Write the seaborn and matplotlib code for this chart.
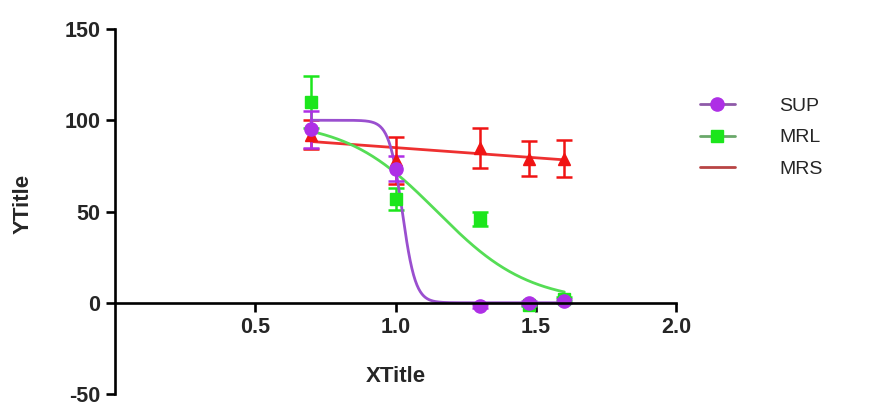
import numpy as np
import matplotlib
matplotlib.use('Agg')
import matplotlib.pyplot as plt
import seaborn as sns
from matplotlib.lines import Line2D

# log10 of concentration (5, 10, 20, 30, 40)
log_conc = [0.699, 1.0, 1.301, 1.477, 1.602]

sup_mean = [95, 73.5, -2, 0, 1]
sup_err = [10, 7, 1, 1, 1]
mrl_mean = [110, 57, 46, -1, 2]
mrl_err = [14, 6, 4, 1, 1]
mrs_mean = [92, 78, 85, 79, 79]
mrs_err = [8, 13, 11, 9.5, 10]

series_names = ['SUP', 'MRL', 'MRS']
x_ticks = [0.5, 1.0, 1.5, 2.0]
y_ticks = [-50, 0, 50, 100, 150]


def fit_dose_response(x, y, top=100, bottom=0):
    # normalized 4PL fit (top/bottom fixed), grid search on logIC50 and hill slope
    x = np.asarray(x, dtype=float)
    y = np.asarray(y, dtype=float)
    c = np.linspace(0.8, 1.6, 401)[:, None, None]
    h = np.linspace(0.5, 20, 391)[None, :, None]
    pred = bottom + (top - bottom) / (1 + 10 ** ((x - c) * h))
    sse = ((pred - y) ** 2).sum(axis=2)
    i, j = np.unravel_index(sse.argmin(), sse.shape)
    xs = np.linspace(x.min(), x.max(), 300)
    ys = bottom + (top - bottom) / (1 + 10 ** ((xs - c[i, 0, 0]) * h[0, j, 0]))
    return xs, ys


sns.set_theme(style="ticks")
plt.rcParams['font.family'] = ['Liberation Sans', 'DejaVu Sans']
plt.rcParams['axes.unicode_minus'] = False

fig = plt.figure(figsize=(8.9, 4.08), dpi=100)
ax = fig.add_axes([115 / 890, 1 - 394 / 408, 561 / 890, 365 / 408])

sup_col, sup_line = '#AE2FE6', '#9A4FCF'
mrl_col, mrl_line = '#1CE61C', '#55DD55'
mrs_col, mrs_line = '#F01414', '#EE3030'

# MRS - linear fit
p = np.polyfit(log_conc, mrs_mean, 1)
xs = np.linspace(min(log_conc), max(log_conc), 50)
sns.lineplot(x=xs, y=np.polyval(p, xs), color=mrs_line, linewidth=2, ax=ax)
ax.errorbar(log_conc, mrs_mean, yerr=mrs_err, fmt='^', ms=9, color=mrs_col,
            ecolor=mrs_col, elinewidth=1.8, capsize=6, capthick=1.8, clip_on=False)

# MRL
xs, ys = fit_dose_response(log_conc, mrl_mean)
sns.lineplot(x=xs, y=ys, color=mrl_line, linewidth=2, ax=ax)
ax.errorbar(log_conc, mrl_mean, yerr=mrl_err, fmt='s', ms=9, color=mrl_col,
            ecolor=mrl_col, elinewidth=1.8, capsize=6, capthick=1.8, clip_on=False)

# SUP
xs, ys = fit_dose_response(log_conc, sup_mean)
sns.lineplot(x=xs, y=ys, color=sup_line, linewidth=2, ax=ax)
ax.errorbar(log_conc, sup_mean, yerr=sup_err, fmt='o', ms=9.5, color=sup_col,
            ecolor=sup_col, elinewidth=1.8, capsize=6, capthick=1.8, clip_on=False)

ax.set_xlim(0, 2.0)
ax.set_ylim(-50, 150)
ax.set_xticks(x_ticks)
ax.set_xticklabels(['%.1f' % t for t in x_ticks])
ax.set_yticks(y_ticks)
for s in ['top', 'right']:
    ax.spines[s].set_visible(False)
ax.spines['bottom'].set_position(('data', 0))
for s in ['left', 'bottom']:
    ax.spines[s].set_linewidth(1.9)
    ax.spines[s].set_color('black')
ax.tick_params(axis='both', direction='out', length=6.5, width=1.9, color='black',
               labelsize=15.5, pad=4)
for t in ax.get_xticklabels() + ax.get_yticklabels():
    t.set_fontweight('bold')

ax.set_xlabel('XTitle', fontsize=16, fontweight='bold')
ax.xaxis.set_label_coords(0.5, (394 - 366) / 365)
ax.set_ylabel('YTitle', fontsize=16, fontweight='bold')
ax.yaxis.set_label_coords((34 - 115) / 561, 0.52)

handles = [
    Line2D([0], [0], color='#8E5AA8', lw=2, marker='o', ms=9.5, mfc=sup_col, mec=sup_col),
    Line2D([0], [0], color='#6AA86A', lw=2, marker='s', ms=9, mfc=mrl_col, mec=mrl_col),
    Line2D([0], [0], color='#B84444', lw=2),
]
fig.legend(handles=handles, labels=series_names, loc='upper left',
           bbox_to_anchor=(682 / 890, 1 - 80 / 408), frameon=False, fontsize=14,
           handlelength=1.8, handletextpad=2.3, labelspacing=0.7)

fig.savefig('out.png', dpi=100)
